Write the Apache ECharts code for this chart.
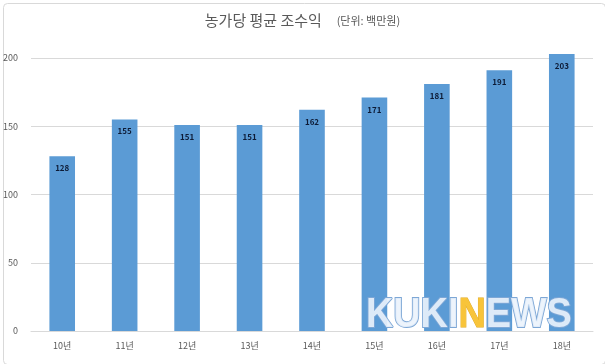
<!DOCTYPE html>
<html><head><meta charset="utf-8">
<script src="https://cdn.jsdelivr.net/npm/echarts@6/dist/echarts.min.js"></script>
<style>html,body{margin:0;padding:0;background:#fff}#c{width:605px;height:364px}</style>
</head><body><div id="c"></div>
<script>
var categories = ['10년','11년','12년','13년','14년','15년','16년','17년','18년'];
var values = [128,155,151,151,162,171,181,191,203];
var yTicks = [0,50,100,150,200];

var chart = echarts.init(document.getElementById('c'), null, {renderer:'canvas'});
chart.setOption({
  animation:false,
  backgroundColor:'#fff',
  title:{
    text:'농가당 평균 조수익  {s|(단위: 백만원)}',
    left:'center', top:8,
    textStyle:{fontFamily:'Noto Sans CJK KR',fontSize:15,color:'#595959',fontWeight:'normal',
      rich:{s:{fontFamily:'Noto Sans CJK KR',fontSize:11,color:'#595959',padding:[0,0,0,8]}}}
  },
  grid:{left:29,right:12,top:58,bottom:33},
  xAxis:{type:'category',data:categories,
    axisLine:{lineStyle:{color:'#d9d9d9'}},axisTick:{show:false},
    axisLabel:{fontFamily:'Noto Sans CJK KR',fontSize:9,color:'#595959',margin:10}},
  yAxis:{type:'value',min:0,max:200,interval:50,
    axisLine:{show:false},axisTick:{show:false},
    splitLine:{lineStyle:{color:'#d9d9d9'}},
    axisLabel:{fontFamily:'Noto Sans CJK KR',fontSize:9,color:'#595959',margin:13,
      formatter:function(v){return yTicks.indexOf(v)>=0?String(v):'';}}},
  series:[{type:'bar',data:values,barWidth:'41%',clip:false,
    itemStyle:{color:'#5B9BD5'},
    label:{show:true,position:'insideTop',distance:8,fontFamily:'Noto Sans CJK KR',fontSize:8,fontWeight:'bold',color:'#0d1b36'}}],
  graphic:[
    {type:'rect',left:1,top:1,shape:{width:602,height:361,r:4},style:{fill:'none',stroke:'#d9d9d9',lineWidth:1},silent:true},
    {type:'text',x:366,y:294,scaleX:0.9,z:100,style:{
      text:'{a|KUKI}{b|N}{a|EWS}',
      rich:{
        a:{fontFamily:'Liberation Sans',fontWeight:'bold',fontSize:42,fill:'rgba(235,243,252,0.9)',stroke:'#7da7d6',lineWidth:2},
        b:{fontFamily:'Liberation Sans',fontWeight:'bold',fontSize:42,fill:'#f8c43a',stroke:'#e0a820',lineWidth:1}
      }}}
  ]
});
</script></body></html>
